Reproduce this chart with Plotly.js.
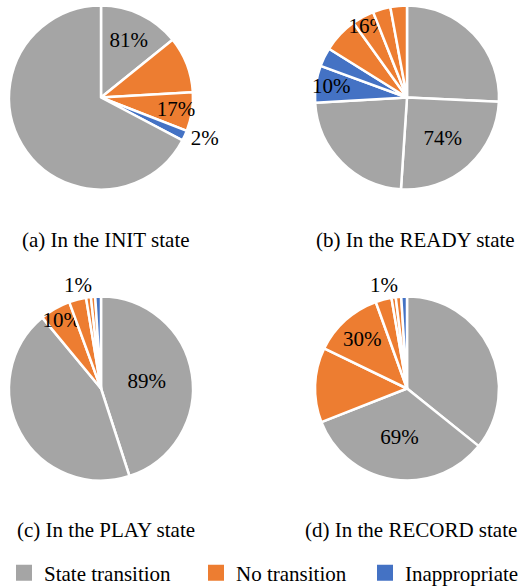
<!DOCTYPE html>
<html>
<head>
<meta charset="utf-8">
<script src="https://cdn.plot.ly/plotly-3.0.1.min.js"></script>
<style>html,body{margin:0;padding:0;background:#fff;}#chart{width:519px;height:587px;}</style>
</head>
<body>
<div id="chart"></div>
<script>
// ---- data ----
const categories = ['State transition', 'No transition', 'Inappropriate'];
const panelTitles = ['(a) In the INIT state', '(b) In the READY state', '(c) In the PLAY state', '(d) In the RECORD state'];

// slice sizes (percent of the pie, clockwise from 12 o'clock) and category of each slice
const initSlices = [14.2, 9.9, 6.8, 1.8, 67.3];
const initKinds = [0, 1, 1, 2, 0];
const initShares = [81, 17, 2];

const readySlices = [25.7, 25.3, 23.0, 6.5, 3.3, 6.2, 3.9, 3.1, 2.9];
const readyKinds = [0, 0, 0, 2, 2, 1, 1, 1, 1];
const readyShares = [74, 16, 10];

const playSlices = [45.0, 44.0, 5.4, 3.0, 0.85, 0.75, 1.0];
const playKinds = [0, 0, 1, 1, 1, 1, 2];
const playShares = [89, 10, 1];

const recordSlices = [35.7, 33.2, 13.1, 12.3, 2.8, 0.75, 0.95, 1.0];
const recordKinds = [0, 0, 1, 1, 1, 1, 1, 2];
const recordShares = [69, 30, 1];

// ---- styling / placement ----
const W = 519, H = 587;
const FONT = 'Liberation Serif';
const colors = ['#A5A5A5', '#ED7D31', '#4472C4'];
// which slice carries each category's label, and whether it sits outside
const labelSlot = [[0, 2, 3], [1, 6, 3], [0, 2, 6], [1, 3, 7]];
const labelOutside = [[false, false, true], [false, false, false], [false, false, true], [false, false, true]];
const centers = [[101, 97.5], [407, 97.5], [101, 388.5], [407, 388.5]];
const R = 92;

function dom(cx, cy, r) {
  return {x: [(cx - r) / W, (cx + r) / W], y: [1 - (cy + r) / H, 1 - (cy - r) / H]};
}

const panels = [
  [initSlices, initKinds, initShares],
  [readySlices, readyKinds, readyShares],
  [playSlices, playKinds, playShares],
  [recordSlices, recordKinds, recordShares]
];

const traces = panels.map(([vals, kinds, shares], p) => {
  const text = vals.map(() => '');
  const pos = vals.map(() => 'none');
  labelSlot[p].forEach((si, k) => {
    text[si] = shares[k] + '%';
    pos[si] = labelOutside[p][k] ? 'outside' : 'inside';
  });
  return {
    type: 'pie',
    values: vals,
    labels: vals.map((v, i) => categories[kinds[i]] + ' #' + (i + 1)),
    text: text,
    textinfo: 'text',
    textposition: pos,
    insidetextorientation: 'horizontal',
    textfont: {family: FONT, size: 21, color: '#000'},
    insidetextfont: {family: FONT, size: 21, color: '#000'},
    outsidetextfont: {family: FONT, size: 21, color: '#000'},
    marker: {colors: kinds.map(k => colors[k]), line: {color: '#fff', width: 2.5}},
    sort: false,
    direction: 'clockwise',
    rotation: 0,
    domain: dom(centers[p][0], centers[p][1], R),
    showlegend: false,
    hoverinfo: 'skip'
  };
});

const legendWidths = [147, 124, 113];
categories.forEach((c, k) => {
  traces.push({
    type: 'scatter', mode: 'markers', x: [null], y: [null], name: c,
    marker: {symbol: 'square', size: 16, color: colors[k]},
    legendwidth: legendWidths[k],
    hoverinfo: 'skip'
  });
});

const titlePos = [
  {x: 105.5, y: 240, anchor: 'center'},
  {x: 415.5, y: 240, anchor: 'center'},
  {x: 106, y: 529.5, anchor: 'center'},
  {x: 303, y: 529.5, anchor: 'left'}
];

const annotations = panelTitles.map((t, i) => ({
  text: t, xref: 'paper', yref: 'paper',
  x: titlePos[i].x / W, y: 1 - titlePos[i].y / H,
  xanchor: titlePos[i].anchor, yanchor: 'middle',
  showarrow: false, font: {family: FONT, size: 21, color: '#000'}
}));

const layout = {
  width: W, height: H,
  margin: {l: 0, r: 0, t: 0, b: 0, autoexpand: false},
  paper_bgcolor: '#fff', plot_bgcolor: '#fff',
  xaxis: {visible: false}, yaxis: {visible: false},
  showlegend: true,
  legend: {
    orientation: 'h', x: 4 / W, xanchor: 'left', y: 1 - 573 / H, yanchor: 'middle',
    font: {family: FONT, size: 21, color: '#000'}, bgcolor: 'rgba(0,0,0,0)'
  },
  uniformtext: {mode: 'show', minsize: 21},
  annotations: annotations
};

Plotly.newPlot('chart', traces, layout, {displayModeBar: false, staticPlot: true});
</script>
</body>
</html>
